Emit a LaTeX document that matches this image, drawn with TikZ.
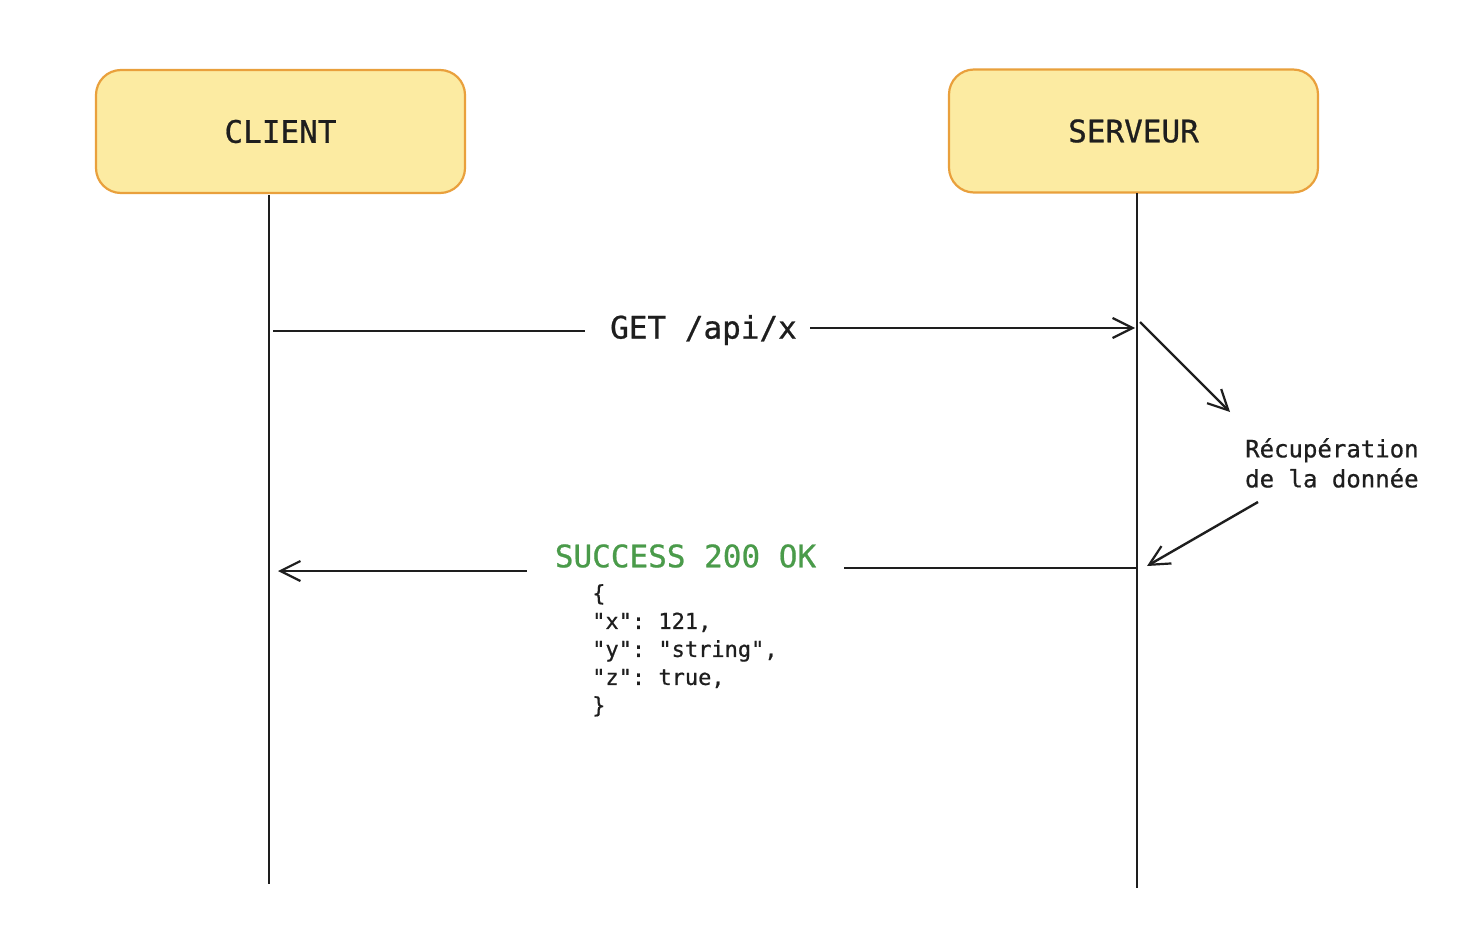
\documentclass[tikz,border=0pt]{standalone}
\usepackage{fontspec}
\setmonofont[FakeBold=0.7]{DejaVu Sans Mono}
\usetikzlibrary{arrows.meta}
\definecolor{boxfill}{RGB}{252,235,162}
\definecolor{boxline}{RGB}{233,160,60}
\definecolor{ink}{RGB}{30,30,30}
\definecolor{okgreen}{RGB}{74,155,74}
\tikzset{
  actor/.style={draw=boxline, fill=boxfill, line width=2.2pt, rounded corners=25pt,
    minimum width=369pt, minimum height=123pt, inner sep=0pt, text=ink,
    font=\ttfamily\fontsize{31}{36}\selectfont},
  lifeline/.style={draw=ink, line width=2.8pt},
  msg/.style={draw=ink, line width=2.4pt},
  tip/.style={-{Straight Barb[length=20pt,width=20pt,line width=2.2pt]}},
  biglbl/.style={inner sep=0pt, font=\ttfamily\fontsize{31}{36}\selectfont},
  note/.style={inner sep=0pt, anchor=north west, align=left, text=ink}
}
\begin{document}
\begin{tikzpicture}[x=1pt,y=-1pt]
\useasboundingbox[fill=white] (0,0) rectangle (1474,926);

\node[actor] (client) at (280.5,131.5) {CLIENT};
\node[actor] (serveur) at (1133.5,131) {SERVEUR};

\coordinate (cTop) at (269,195);
\coordinate (cBot) at (269,884);
\coordinate (sTop) at (1137,193);
\coordinate (sBot) at (1137,888);
\draw[lifeline] (cTop) -- (cBot);
\draw[lifeline] (sTop) -- (sBot);

% request
\node[biglbl, text=ink] (get) at (703.5,330) {GET /api/x};
\coordinate (cReq) at (273,331);
\coordinate (sReq) at (1135,328);
\draw[msg] (cReq) -- ([xshift=-25pt]cReq -| get.west);
\draw[msg, tip] ([xshift=13pt]sReq -| get.east) -- (sReq);

% processing
\node[note, font=\ttfamily\fontsize{24}{30}\selectfont] (proc) at (1245,438) {Récupération\\de la donnée};
\coordinate (pOut) at (1140,322);
\coordinate (pIn) at (1230,412);
\coordinate (rOut) at (1258,502);
\coordinate (rIn) at (1147,566);
\draw[msg, tip] (pOut) -- (pIn);
\draw[msg, tip] (rOut) -- (rIn);

% response
\node[biglbl, text=okgreen, inner xsep=28pt] (succ) at (685.5,556) {SUCCESS 200 OK};
\coordinate (sResp) at (1137,568);
\coordinate (cResp) at (278,571);
\draw[msg] (sResp) -- (sResp -| succ.east);
\draw[msg, tip] (succ.west |- cResp) -- (cResp);

\node[note, font=\ttfamily\fontsize{22}{28}\selectfont] (json) at (592,584)
  {\{\\"x": 121,\\"y": "string",\\"z": true,\\\}};
\end{tikzpicture}
\end{document}
